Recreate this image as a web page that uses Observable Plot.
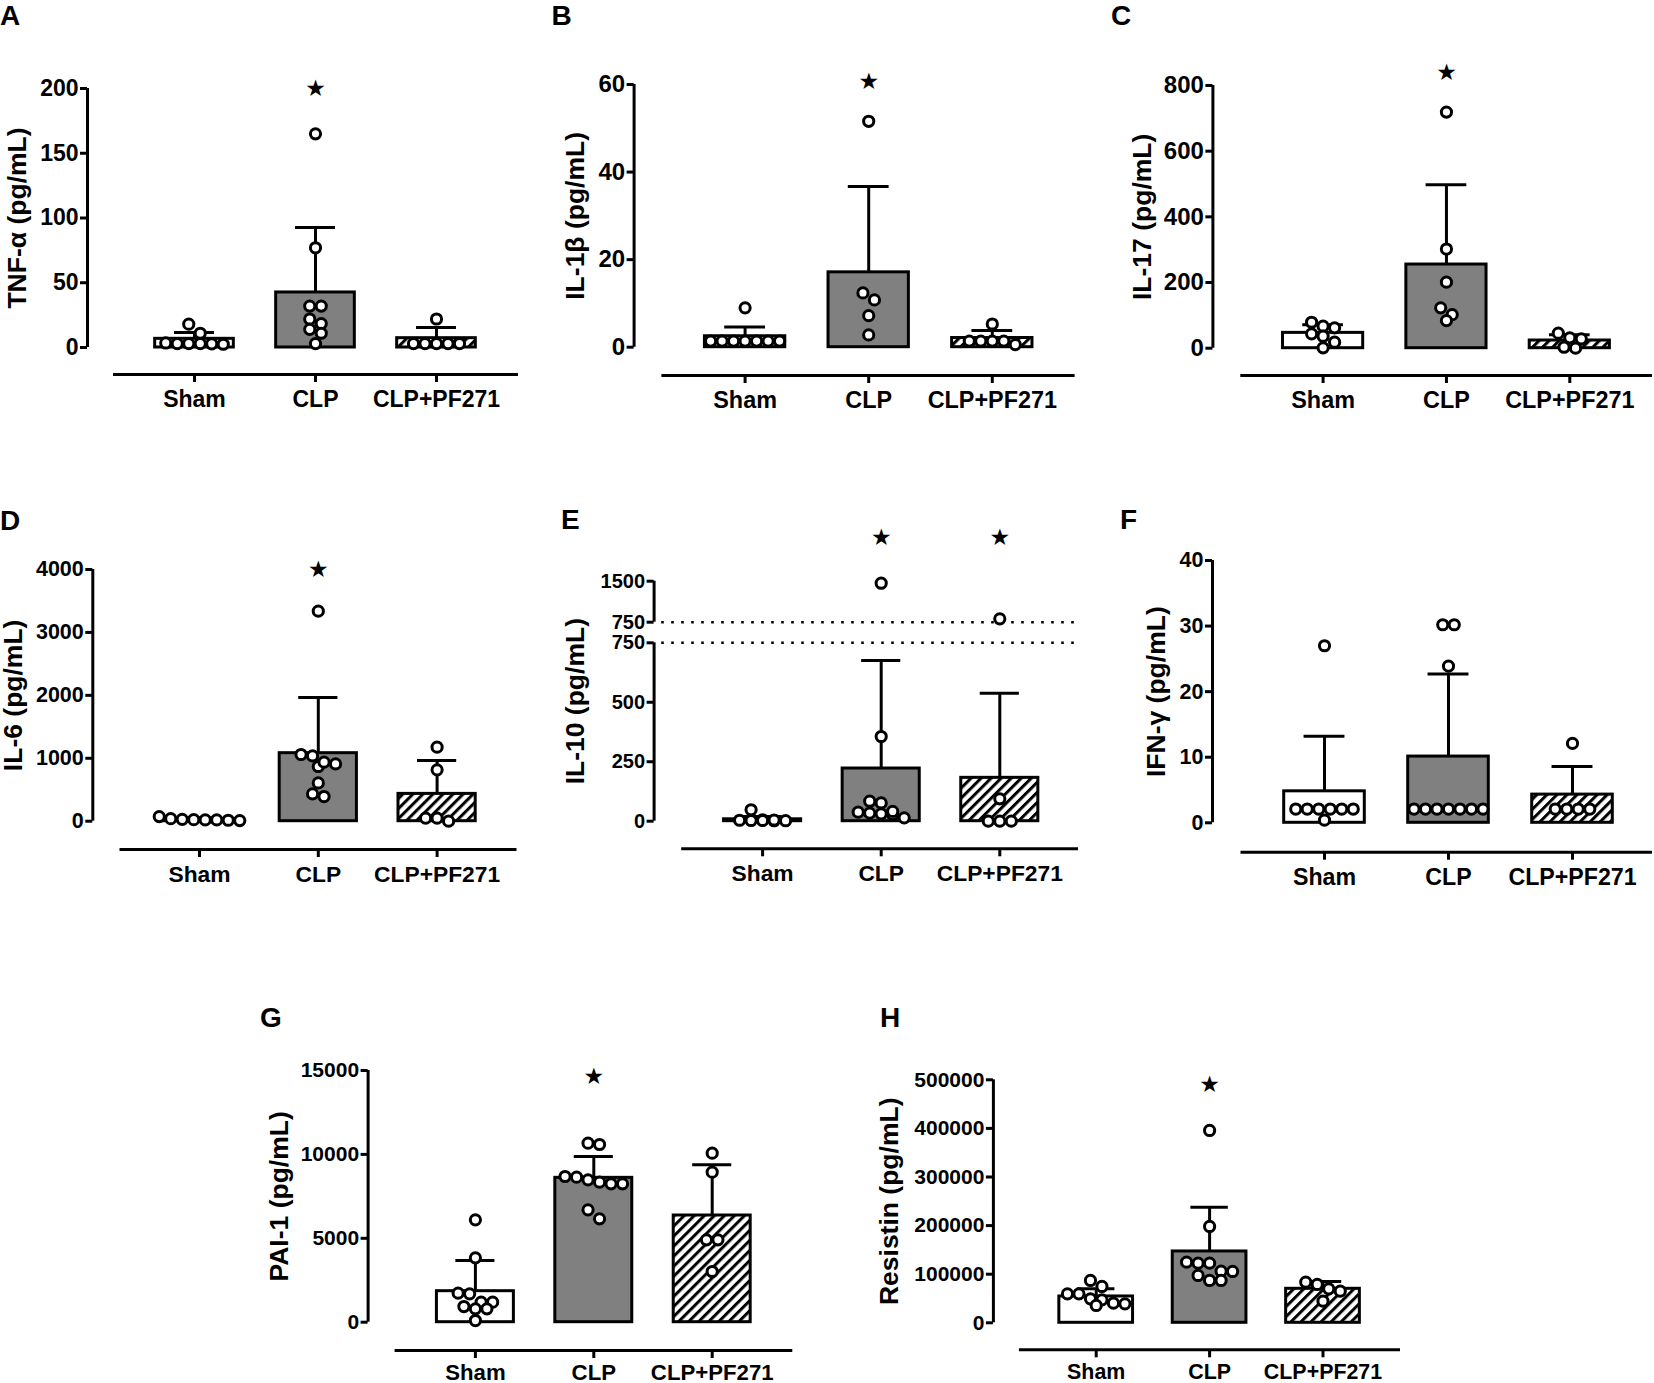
<!DOCTYPE html>
<html><head><meta charset="utf-8">
<script src="https://cdn.jsdelivr.net/npm/d3@7"></script>
<script src="https://cdn.jsdelivr.net/npm/@observablehq/plot@0.6"></script>
<style>
html,body{margin:0;padding:0;background:#fff;overflow:hidden}
#page{position:relative;width:1654px;height:1383px;background:#fff}
#page svg.layer{position:absolute;left:0;top:0;max-width:none}
</style></head><body>
<div id="page">
<svg width="0" height="0" style="position:absolute">
<defs><pattern id="hatch" patternUnits="userSpaceOnUse" width="7.1" height="7.1" patternTransform="rotate(45)">
<rect width="7.1" height="7.1" fill="#fff"/><rect width="3" height="7.1" fill="#000"/></pattern></defs></svg>
</div>
<script>
const W = 1654, H = 1383;
const groups = ["Sham", "CLP", "CLP+PF271"];
const fills = ["#ffffff", "#808080", "url(#hatch)"];

// A  TNF-α
const tnfTitle = "TNF-α (pg/mL)";
const tnfTicks = [0, 50, 100, 150, 200];
const tnfMean = [6.7, 42.5, 7.2];
const tnfSD = [4.9, 50.2, 8.2];
const tnfSham = [18, 11, 3, 2.5, 3, 3.5, 2.8, 3];
const tnfCLP = [165, 77, 32, 32, 22, 18.5, 14, 11, 3];
const tnfPF = [22, 3, 3, 3, 3, 3];
const tnfStar = [null, 200, null];

// B  IL-1β
const il1Title = "IL-1β (pg/mL)";
const il1Ticks = [0, 20, 40, 60];
const il1Mean = [2.5, 17.1, 2.1];
const il1SD = [2.1, 19.6, 1.7];
const il1Sham = [9.0, 1.4, 1.4, 1.4, 1.4, 1.4, 1.4, 1.4];
const il1CLP = [51.6, 12.4, 10.8, 7.2, 2.8];
const il1PF = [5.3, 1.4, 0.6, 1.4, 1.4, 1.4];
const il1Star = [null, 60.7, null];

// C  IL-17
const il17Title = "IL-17 (pg/mL)";
const il17Ticks = [0, 200, 400, 600, 800];
const il17Mean = [46.7, 254.8, 23.4];
const il17SD = [25, 242.7, 17.2];
const il17Sham = [67, 62, 79, 36.5, 43.7, 18.3, 1];
const il17CLP = [719, 302, 201, 123, 102, 84];
const il17PF = [45.7, 28.4, 31.5, 0, 3];
const il17Star = [null, 838, null];

// D  IL-6
const il6Title = "IL-6 (pg/mL)";
const il6Ticks = [0, 1000, 2000, 3000, 4000];
const il6Mean = [30, 1081, 434];
const il6SD = [25, 885, 530];
const il6Sham = [10, 15, 30, 20, 74, 40, 25, 20];
const il6CLP = [3338, 1038, 1060, 911, 869, 938, 609, 392, 434];
const il6PF = [1176, 816, 48, 0, 48];
const il6Star = [null, 4000, null];

// E  IL-10 (broken axis)
const il10Title = "IL-10 (pg/mL)";
const il10Break = [749.999, 750];
const il10Ticks = [0, 250, 500, 749.999, 750, 1500];
const il10Mean = [8, 221.5, 182.3];
const il10SD = [12, 454, 356];
const il10Sham = [48, 2, 3, 5, 4, 2, 6, 3];
const il10CLP = [1463, 356, 77, 84, 38, 31, 14, 28, 34, 41];
const il10PF = [811, 94, 0, 0, 0];
const il10Star = [null, 2305, 2305];

// F  IFN-γ
const ifnTitle = "IFN-γ (pg/mL)";
const ifnTicks = [0, 10, 20, 30, 40];
const ifnMean = [4.8, 10.1, 4.3];
const ifnSD = [8.4, 12.6, 4.3];
const ifnSham = [27, 2.1, 2.1, 2.1, 2.1, 2.1, 2.1, 0.4];
const ifnCLP = [30.2, 30.2, 23.9, 2.1, 2.1, 2.1, 2.1, 2.1, 2.1, 2.1];
const ifnPF = [12.1, 2.1, 2.1, 2.1, 2.1];
const ifnStar = [null, null, null];

// G  PAI-1
const paiTitle = "PAI-1 (pg/mL)";
const paiTicks = [0, 5000, 10000, 15000];
const paiMean = [1848, 8603, 6358];
const paiSD = [1827, 1271, 3019];
const paiSham = [6099, 3834, 1689, 1728, 1192, 795, 1192, 795, 934, 99];
const paiCLP = [10589, 10669, 8682, 8483, 8245, 8245, 8344, 8642, 6159, 6695];
const paiPF = [10073, 8940, 4907, 4907, 3020];
const paiStar = [null, 14640, null];

// H  Resistin
const resTitle = "Resistin (pg/mL)";
const resTicks = [0, 100000, 200000, 300000, 400000, 500000];
const resMean = [54184, 146776, 69959];
const resSD = [15775, 91221, 15089];
const resSham = [87106, 74760, 59671, 59671, 47325, 49383, 40466, 39095, 35665];
const resCLP = [395748, 198217, 122771, 122771, 124829, 106310, 97394, 105624, 87106, 87106];
const resPF = [69959, 83676, 65158, 78875, 44582];
const resStar = [null, 489700, null];

// layout (page pixel geometry of each panel)
const layouts = {
  A: {yAxis: 87, lineStart: 113, lineEnd: 518, c0: 194, c2: 436, yRange: [347, 88], xline: 374, titleOff: 70, tickFont: 23, xFont: 23, xPad: 8, lx: 0, ly: 25},
  B: {yAxis: 633.6, lineStart: 661.4, lineEnd: 1074.6, c0: 744.6, c2: 991.8, yRange: [346.7, 84], xline: 375, titleOff: 59, tickFont: 24, xFont: 23.4, xPad: 8, lx: 551.6, ly: 25},
  C: {yAxis: 1212.4, lineStart: 1240.3, lineEnd: 1652, c0: 1322.6, c2: 1569.3, yRange: [347.7, 85], xline: 375, titleOff: 70, tickFont: 24, xFont: 23.4, xPad: 8, lx: 1111, ly: 25},
  D: {yAxis: 92.3, lineStart: 119.5, lineEnd: 516.5, c0: 199, c2: 436.6, yRange: [820.7, 569], xline: 849, titleOff: 79, tickFont: 21.5, xFont: 22.8, xPad: 8, lx: 0, ly: 530},
  E: {yAxis: 653.6, lineStart: 681.2, lineEnd: 1078, c0: 762.1, c2: 999.3, yRange: [820.7, 642.3, 621.7, 580.7], xline: 848.3, titleOff: 78.6, tickFont: 20, xFont: 22.8, xPad: 8, lx: 561, ly: 529, dottedInset: 20},
  F: {yAxis: 1212, lineStart: 1240.5, lineEnd: 1652, c0: 1324, c2: 1572, yRange: [822.3, 560], xline: 851.7, titleOff: 56, tickFont: 21.5, xFont: 23.2, xPad: 8, lx: 1120, ly: 529},
  G: {yAxis: 367.6, lineStart: 394.6, lineEnd: 792.3, c0: 474.9, c2: 711.7, yRange: [1321.7, 1070], xline: 1350, titleOff: 88.8, tickFont: 21, xFont: 22.2, xPad: 6, lx: 260, ly: 1027},
  H: {yAxis: 992.9, lineStart: 1018.9, lineEnd: 1400, c0: 1095.7, c2: 1322.5, yRange: [1322.3, 1079.3], xline: 1349.3, titleOff: 104, tickFont: 21, xFont: 21.4, xPad: 6, lx: 880, ly: 1027}
};

const panels = [
  {letter: "A", title: tnfTitle, ticks: tnfTicks, mean: tnfMean, sd: tnfSD, points: [tnfSham, tnfCLP, tnfPF], stars: tnfStar},
  {letter: "B", title: il1Title, ticks: il1Ticks, mean: il1Mean, sd: il1SD, points: [il1Sham, il1CLP, il1PF], stars: il1Star},
  {letter: "C", title: il17Title, ticks: il17Ticks, mean: il17Mean, sd: il17SD, points: [il17Sham, il17CLP, il17PF], stars: il17Star},
  {letter: "D", title: il6Title, ticks: il6Ticks, mean: il6Mean, sd: il6SD, points: [il6Sham, il6CLP, il6PF], stars: il6Star},
  {letter: "E", title: il10Title, ticks: il10Ticks, mean: il10Mean, sd: il10SD, points: [il10Sham, il10CLP, il10PF], stars: il10Star,
   yDomain: [0, il10Break[0], il10Break[1], 1500], segments: [[0, il10Break[0]], [il10Break[1], 1500]], dotted: il10Break},
  {letter: "F", title: ifnTitle, ticks: ifnTicks, mean: ifnMean, sd: ifnSD, points: [ifnSham, ifnCLP, ifnPF], stars: ifnStar},
  {letter: "G", title: paiTitle, ticks: paiTicks, mean: paiMean, sd: paiSD, points: [paiSham, paiCLP, paiPF], stars: paiStar},
  {letter: "H", title: resTitle, ticks: resTicks, mean: resMean, sd: resSD, points: [resSham, resCLP, resPF], stars: resStar}
];

const HALF = 0.325, CAP = 0.165, R = 5.1, DOTSW = 3, SPACING = 11.5;
const FONT = "'Liberation Sans', Arial, Helvetica, sans-serif";

// simple row-based beeswarm computed in the y scale's pixel space
function swarm(vals, ypx, gi, step) {
  const items = vals.map((v, k) => ({k, py: ypx(v)})).sort((a, b) => a.py - b.py);
  const rows = [];
  for (const it of items) {
    const row = rows[rows.length - 1];
    if (row && it.py - row[0].py < SPACING * 0.9) row.push(it); else rows.push([it]);
  }
  const xs = new Array(vals.length);
  for (const row of rows) row.forEach((it, j) => { xs[it.k] = gi + (j - (row.length - 1) / 2) * SPACING / step; });
  return xs;
}

const page = document.getElementById("page");

for (const p of panels) {
  const L = layouts[p.letter];
  const step = (L.c2 - L.c0) / 2;
  const xLeft = (L.lineStart - L.c0) / step;
  const gapX = L.lineStart - L.yAxis;
  const y0 = L.yRange[0];
  const gapY = L.xline - y0;
  const yDomain = p.yDomain || [0, p.ticks[p.ticks.length - 1]];
  const segments = p.segments || [yDomain];
  const yOpts = {type: "linear", domain: yDomain, range: L.yRange};
  const ys = Plot.scale({y: yOpts});
  const bars = groups.map((g, i) => ({i, g, mean: p.mean[i], upper: p.mean[i] + p.sd[i]}));
  const pts = [];
  p.points.forEach((vals, i) => {
    const xs = swarm(vals, v => ys.apply(v), i, step);
    vals.forEach((v, k) => pts.push({x: xs[k], v}));
  });
  const stars = p.stars.map((s, i) => ({i, s})).filter(d => d.s != null);

  const marks = [];
  if (p.dotted) {
    marks.push(Plot.ruleY(p.dotted, {strokeWidth: 2.4, strokeDasharray: "2.6,7.4", insetLeft: -L.dottedInset, stroke: "#000"}));
  }
  marks.push(
    Plot.ruleX(segments, {x: () => xLeft, y1: d => d[0], y2: d => d[1], dx: -gapX, strokeWidth: 3, stroke: "#000"}),
    Plot.axisY(p.ticks, {anchor: "left", dx: -gapX, tickSize: 7, tickPadding: 2, tickFormat: d => String(Math.round(d)),
      fontSize: L.tickFont, fontWeight: "bold", strokeWidth: 3, label: null}),
    Plot.ruleY([0], {dy: gapY, strokeWidth: 3, stroke: "#000"}),
    Plot.axisX([0, 1, 2], {anchor: "bottom", dy: gapY, tickSize: 8, tickPadding: L.xPad, tickFormat: i => groups[i],
      fontSize: L.xFont, fontWeight: "bold", strokeWidth: 3, label: null}),
    Plot.rect(bars, {x1: d => d.i - HALF, x2: d => d.i + HALF, y1: () => 0, y2: "mean", fill: "g", stroke: "#000", strokeWidth: 3}),
    Plot.ruleX(bars, {x: "i", y1: "mean", y2: "upper", strokeWidth: 3, stroke: "#000"}),
    Plot.ruleY(bars, {y: "upper", x1: d => d.i - CAP, x2: d => d.i + CAP, strokeWidth: 3, stroke: "#000"}),
    Plot.dot(pts, {x: "x", y: "v", r: R, fill: "#fff", stroke: "#000", strokeWidth: DOTSW}),
    Plot.text(stars, {x: "i", y: "s", text: () => "★", fontSize: 23, fontFamily: "DejaVu Sans", fill: "#000"}),
    Plot.text([p.title], {text: d => d, frameAnchor: "left", rotate: -90, dx: -(gapX + L.titleOff), fontSize: 26.5,
      fontWeight: "bold", textAnchor: "middle", lineAnchor: "middle", fill: "#000"})
  );

  const svg = Plot.plot({
    width: W, height: H,
    marginLeft: L.lineStart, marginRight: W - L.lineEnd,
    marginTop: L.yRange[L.yRange.length - 1], marginBottom: H - y0,
    x: {type: "linear", domain: [0, 2], range: [L.c0, L.c2]},
    y: yOpts,
    color: {type: "ordinal", domain: groups, range: fills},
    style: {fontFamily: FONT, fontWeight: "bold", color: "#000", background: "transparent", overflow: "visible"},
    marks
  });
  svg.classList.add("layer");
  svg.style.position = "absolute"; svg.style.left = "0px"; svg.style.top = "0px"; svg.style.maxWidth = "none";
  page.appendChild(svg);
}

// panel letters
const ns = "http://www.w3.org/2000/svg";
const lsvg = document.createElementNS(ns, "svg");
lsvg.setAttribute("width", W); lsvg.setAttribute("height", H);
lsvg.setAttribute("class", "layer");
lsvg.style.position = "absolute"; lsvg.style.left = "0px"; lsvg.style.top = "0px";
for (const p of panels) {
  const L = layouts[p.letter];
  const t = document.createElementNS(ns, "text");
  t.setAttribute("x", L.lx); t.setAttribute("y", L.ly);
  t.setAttribute("font-family", FONT); t.setAttribute("font-weight", "bold"); t.setAttribute("font-size", "28");
  t.textContent = p.letter;
  lsvg.appendChild(t);
}
page.appendChild(lsvg);
</script>
</body></html>
